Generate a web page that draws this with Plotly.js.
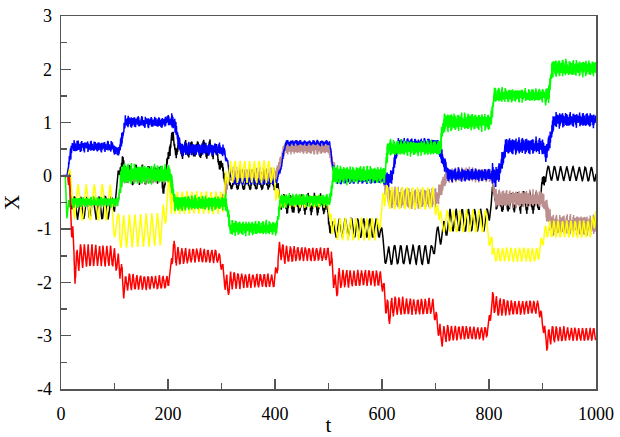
<!DOCTYPE html>
<html><head><meta charset="utf-8">
<script src="https://cdn.plot.ly/plotly-3.0.1.min.js"></script>
<style>body{margin:0;background:#fff}#chart{width:620px;height:437px}</style>
</head><body><div id="chart"></div>
<script>
// ---- data ----
const xTickVals = [0, 200, 400, 600, 800, 1000];
const xTickText = ['0', '200', '400', '600', '800', '1000'];
const xMinorVals = [100, 300, 500, 700, 900];
const yTickVals = [-4, -3, -2, -1, 0, 1, 2, 3];
const yTickText = ['-4', '-3', '-2', '-1', '0', '1', '2', '3'];
const yMinorVals = [-3.5, -2.5, -1.5, -0.5, 0.5, 1.5, 2.5];

// segment start times (t) shared by all series
const segStart = [0, 14, 110, 207, 307, 405, 505, 605, 707, 806, 906];

// blue
const blueT = [0, 11, 20, 96, 104, 110, 120, 192, 198, 212, 224, 298, 306, 312, 320, 402, 410, 420, 502, 508, 516, 608, 618, 630, 704, 712, 724, 806, 816, 824, 832, 900, 906, 912, 922, 1000];
const blueV = [0, 0, 0.55, 0.55, 0.45, 0.5, 1.02, 1.0, 1.06, 0.98, 0.5, 0.5, 0.45, 0.2, -0.1, -0.1, 0.1, 0.62, 0.62, 0.2, -0.08, -0.08, -0.02, 0.58, 0.58, 0.35, 0.02, 0.02, 0.0, 0.25, 0.56, 0.56, 0.42, 0.6, 1.05, 1.05];
const blueFast = [0, 0.1, 0.1, 0.12, 0.03, 0.04, 0.05, 0.13, 0.12, 0.16, 0.14];
const blueSlow = [0, 0.02, 0.02, 0.02, 0.04, 0.02, 0.03, 0.02, 0.02, 0.02, 0.02];

// red
const redT = [0, 13, 20, 26, 34, 95, 100, 106, 112, 117, 124, 200, 204, 209, 216, 292, 300, 306, 311, 318, 398, 404, 409, 416, 500, 507, 514, 520, 598, 605, 612, 620, 695, 703, 710, 718, 795, 802, 808, 815, 893, 901, 909, 916, 1000];
const redV = [0, 0, -0.9, -1.75, -1.5, -1.5, -1.55, -1.62, -1.75, -2.12, -2.0, -2.0, -1.8, -1.35, -1.5, -1.5, -1.65, -1.95, -2.1, -1.97, -1.97, -1.7, -1.35, -1.47, -1.47, -1.75, -2.15, -1.92, -1.92, -2.2, -2.62, -2.45, -2.45, -2.75, -3.05, -2.95, -2.95, -2.65, -2.35, -2.47, -2.47, -2.8, -3.1, -2.97, -2.97];
const redFast = [0, 0.04, 0.04, 0.04, 0.04, 0.04, 0.04, 0.04, 0.03, 0.04, 0.03];
const redSlow = [0, 0.17, 0.1, 0.1, 0.1, 0.1, 0.12, 0.12, 0.1, 0.1, 0.1];

// black
const blackT = [0, 13, 18, 24, 96, 104, 110, 114, 118, 124, 186, 191, 196, 202, 207, 212, 218, 286, 296, 304, 312, 400, 406, 414, 494, 500, 507, 514, 597, 603, 609, 614, 693, 700, 706, 716, 724, 796, 802, 808, 816, 893, 900, 905, 1000];
const blackV = [0, 0, -0.3, -0.6, -0.6, -0.3, 0.15, 0.3, 0.1, 0.02, 0.02, -0.18, -0.05, 0.5, 0.72, 0.55, 0.5, 0.5, 0.3, 0.0, -0.15, -0.15, -0.3, -0.53, -0.53, -0.8, -1.05, -0.98, -0.98, -1.35, -1.55, -1.48, -1.48, -1.2, -1.1, -1.05, -0.83, -0.83, -0.6, -0.3, -0.5, -0.5, -0.2, 0.05, 0.03];
const blackFast = [0, 0.03, 0.12, 0.1, 0.05, 0.1, 0.02, 0.02, 0.02, 0.1, 0.01];
const blackSlow = [0, 0.2, 0.1, 0.1, 0.08, 0.12, 0.17, 0.17, 0.2, 0.12, 0.13];

// green
const greenT = [0, 8, 11, 14, 18, 106, 114, 204, 213, 309, 316, 403, 410, 503, 509, 605, 611, 708, 716, 803, 810, 911, 918, 1000];
const greenV = [0, 0, -0.8, -0.5, -0.49, -0.49, 0.03, 0.03, -0.51, -0.51, -0.98, -0.98, -0.46, -0.46, 0.02, 0.02, 0.52, 0.52, 1.01, 1.01, 1.51, 1.51, 2.02, 2.02];
const greenFast = [0, 0.09, 0.19, 0.14, 0.14, 0.12, 0.17, 0.15, 0.17, 0.13, 0.16];
const greenSlow = [0, 0.02, 0.02, 0.02, 0.02, 0.02, 0.02, 0.02, 0.02, 0.02, 0.02];

// yellow
const yellowT = [0, 13, 18, 26, 92, 106, 188, 197, 203, 210, 302, 308, 312, 394, 402, 410, 497, 504, 510, 592, 600, 606, 612, 698, 705, 712, 716, 796, 802, 808, 892, 900, 908, 990, 1000];
const yellowV = [0, 0, -0.3, -0.5, -0.5, -1.05, -1.0, -0.5, -0.3, -0.5, -0.5, -0.1, 0.08, 0.08, -0.25, -0.48, -0.48, -0.8, -1.0, -1.0, -0.6, -0.35, -0.42, -0.42, -0.8, -0.9, -0.85, -0.85, -1.2, -1.48, -1.48, -1.2, -1.0, -1.0, -0.75];
const yellowFast = [0, 0.02, 0.02, 0.02, 0.02, 0.02, 0.02, 0.02, 0.02, 0.02, 0.02];
const yellowSlow = [0, 0.33, 0.3, 0.2, 0.2, 0.1, 0.2, 0.2, 0.2, 0.12, 0.15];
const yellowPeriod = [15, 15, 10.5, 9, 9, 9, 10, 9.5, 12, 8, 8];

// brown
const brownT = [0, 12, 20, 106, 115, 203, 212, 300, 306, 314, 402, 410, 418, 500, 506, 514, 600, 607, 616, 702, 712, 721, 805, 812, 900, 910, 918, 1000];
const brownV = [0, 0, -0.5, -0.5, -0.04, -0.04, -0.5, -0.5, -0.35, 0.02, 0.02, 0.25, 0.53, 0.53, 0.3, 0.0, 0.0, -0.2, -0.42, -0.42, -0.2, 0.02, 0.02, -0.43, -0.43, -0.7, -0.92, -0.92];
const brownFast = [0, 0.08, 0.1, 0.1, 0.14, 0.13, 0.12, 0.2, 0.14, 0.17, 0.2];
const brownSlow = [0, 0.02, 0.02, 0.02, 0.02, 0.02, 0.02, 0.02, 0.02, 0.02, 0.02];

// ---- build the traces ----
function interp(T, V, t) {
  if (t <= T[0]) return V[0];
  for (let i = 1; i < T.length; i++) {
    if (t <= T[i]) {
      const f = (t - T[i-1]) / (T[i] - T[i-1]);
      return V[i-1] + f * (V[i] - V[i-1]);
    }
  }
  return V[V.length-1];
}
function segIndex(t) {
  let k = 0;
  for (let i = 0; i < segStart.length; i++) if (t >= segStart[i]) k = i;
  return k;
}
function series(T, V, fastA, slowA, pFast, pSlow, boost, phase) {
  const xs = [], ys = [];
  const dt = 0.2;
  for (let i = 0; i <= 5000; i++) {
    const t = i * dt;
    const k = segIndex(t);
    const m = 1 + boost * Math.exp(-(t - segStart[k]) / 18);
    const ps = Array.isArray(pSlow) ? pSlow[k] : pSlow;
    const mod = 0.62 + 0.23 * Math.sin(2 * Math.PI * t / 6.3 + phase) + 0.15 * Math.sin(2 * Math.PI * t / 2.9);
    const y = interp(T, V, t) + m * (fastA[k] * Math.sin(2 * Math.PI * t / pFast) * mod +
              slowA[k] * Math.sin(2 * Math.PI * t / ps + phase));
    xs.push(t); ys.push(y);
  }
  return {xs, ys};
}
function trace(s, color) {
  return {x: s.xs, y: s.ys, type: 'scatter', mode: 'lines',
          line: {color: color, width: 1.5}, hoverinfo: 'skip'};
}
const data = [
  trace(series(blackT, blackV, blackFast, blackSlow, 1.3, 11.5, 0, 0.3), '#000000'),
  trace(series(brownT, brownV, brownFast, brownSlow, 1.0, 7, 0.2, 1.1), '#bc8f8f'),
  trace(series(blueT, blueV, blueFast, blueSlow, 1.1, 8, 0.4, 2.0), '#0000ff'),
  trace(series(yellowT, yellowV, yellowFast, yellowSlow, 1.5, yellowPeriod, 0, 0.7), '#ffff00'),
  trace(series(greenT, greenV, greenFast, greenSlow, 0.9, 7, 0.3, 2.7), '#00ff00'),
  trace(series(redT, redV, redFast, redSlow, 1.2, 7, 0.8, 0.0), '#ff0000')
];

const axCol = '#555';
const serif = 'Liberation Serif, Times New Roman, serif';
const layout = {
  width: 620, height: 437,
  margin: {l: 61, r: 24, t: 16, b: 48},
  paper_bgcolor: '#fff', plot_bgcolor: '#fff',
  showlegend: false,
  font: {family: serif, size: 18, color: '#000'},
  xaxis: {
    range: [0, 1000], tickmode: 'array', tickvals: xTickVals, ticktext: xTickText,
    tickfont: {family: serif, size: 18, color: '#000'},
    ticks: 'inside', ticklen: 10, tickwidth: 1.5, tickcolor: axCol,
    showline: true, linecolor: axCol, linewidth: 1.5, mirror: true,
    showgrid: false, zeroline: false, automargin: false, ticklabelstandoff: 8,
    minor: {tickmode: 'array', tickvals: xMinorVals, ticks: 'inside', ticklen: 6, tickwidth: 1.5, tickcolor: axCol, showgrid: false},
    title: {text: 't', font: {family: serif, size: 21, color: '#000'}}
  },
  yaxis: {
    range: [-4, 3], tickmode: 'array', tickvals: yTickVals, ticktext: yTickText,
    tickfont: {family: serif, size: 18, color: '#000'},
    ticks: 'inside', ticklen: 10, tickwidth: 1.5, tickcolor: axCol,
    showline: true, linecolor: axCol, linewidth: 1.5, mirror: true,
    showgrid: false, zeroline: false, automargin: false, ticklabelstandoff: 4,
    minor: {tickmode: 'array', tickvals: yMinorVals, ticks: 'inside', ticklen: 6, tickwidth: 1.5, tickcolor: axCol, showgrid: false},
    title: {text: 'X', font: {family: serif, size: 21, color: '#000'}}
  }
};
Plotly.newPlot('chart', data, layout, {staticPlot: true, displayModeBar: false});
</script>
</body></html>
